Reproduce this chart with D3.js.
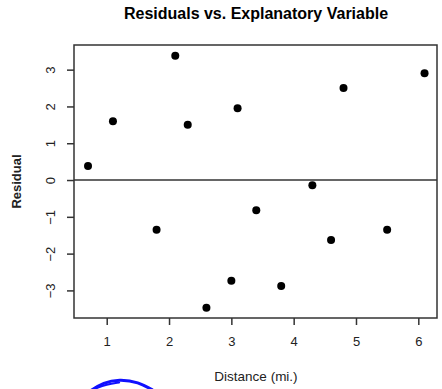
<!DOCTYPE html>
<html>
<head>
<meta charset="utf-8">
<script src="https://cdn.jsdelivr.net/npm/d3@7"></script>
<style>
  body { margin: 0; background: #fff; }
  svg { display: block; font-family: "Liberation Sans", Arial, sans-serif; }
</style>
</head>
<body>
<svg width="442" height="389"></svg>
<script>
const distance = [0.7, 1.1, 2.1, 2.3, 3.1, 4.8, 6.1, 1.8, 3.4, 4.3, 4.6, 5.5, 3.0, 2.6, 3.8];
const residual = [0.38, 1.6, 3.38, 1.5, 1.95, 2.5, 2.9, -1.35, -0.82, -0.14, -1.63, -1.35, -2.74, -3.47, -2.88];
const xTicks = [1, 2, 3, 4, 5, 6];
const yTicks = [-3, -2, -1, 0, 1, 2, 3];
// pen scribble under the chart, in data units
const scribbleA = [[0.72, -5.75], [0.95, -5.5], [1.2, -5.42], [1.5, -5.48], [1.78, -5.75]];
const scribbleB = [[0.8, -5.68], [1.0, -5.55], [1.2, -5.5]];

const config = { left: 74, right: 437, top: 45, bottom: 318 };

const svg = d3.select("svg");

const x = d3.scaleLinear().domain([0.475, 6.3]).range([config.left, config.right]);
const y = d3.scaleLinear().domain([-3.75, 3.67]).range([config.bottom, config.top]);

// title
svg.append("text")
  .attr("x", 256).attr("y", 19)
  .attr("text-anchor", "middle")
  .style("font-size", "16px").style("font-weight", "bold")
  .text("Residuals vs. Explanatory Variable");

// zero line
svg.append("line")
  .attr("x1", config.left).attr("x2", config.right)
  .attr("y1", y(0)).attr("y2", y(0))
  .attr("stroke", "#333").attr("stroke-width", 1.5);

// axes
const x_axis_g = svg.append("g")
  .attr("transform", `translate(0,${config.bottom})`)
  .call(d3.axisBottom(x).tickValues(xTicks).tickSize(7).tickPadding(10).tickSizeOuter(0).tickFormat(d3.format("d")));
const y_axis_g = svg.append("g")
  .attr("transform", `translate(${config.left},0)`)
  .call(d3.axisLeft(y).tickValues(yTicks).tickSize(7).tickSizeOuter(0).tickFormat(d => d < 0 ? "\u2212" + Math.abs(d) : d));

[x_axis_g, y_axis_g].forEach(g => {
  g.select(".domain").remove();
  g.selectAll(".tick line").attr("stroke", "#333").attr("stroke-width", 1.5);
  g.selectAll(".tick text").style("font-size", "13px").attr("fill", "#222");
});
x_axis_g.selectAll(".tick text").attr("dy", "0.85em");
y_axis_g.selectAll(".tick text")
  .attr("x", null)
  .attr("text-anchor", "middle")
  .attr("transform", "translate(-24,0) rotate(-90)")
  .attr("dy", "0.35em");

// box
svg.append("rect")
  .attr("x", config.left).attr("y", config.top)
  .attr("width", config.right - config.left).attr("height", config.bottom - config.top)
  .attr("fill", "none").attr("stroke", "#333").attr("stroke-width", 1.5);

// points
svg.append("g").selectAll("circle")
  .data(d3.range(distance.length))
  .join("circle")
  .attr("cx", i => x(distance[i]))
  .attr("cy", i => y(residual[i]))
  .attr("r", 4)
  .attr("fill", "#000");

// axis titles
svg.append("text")
  .attr("x", 256).attr("y", 381)
  .attr("text-anchor", "middle")
  .style("font-size", "13.5px").attr("fill", "#222")
  .text("Distance (mi.)");
svg.append("text")
  .attr("transform", `translate(21,${(config.top + config.bottom) / 2}) rotate(-90)`)
  .attr("text-anchor", "middle")
  .style("font-size", "13px").style("font-weight", "bold").attr("fill", "#222")
  .text("Residual");

// blue pen mark
const pen = d3.line().x(d => x(d[0])).y(d => y(d[1])).curve(d3.curveBasis);
svg.append("path").attr("d", pen(scribbleA))
  .attr("fill", "none").attr("stroke", "#1010ff").attr("stroke-width", 3).attr("stroke-linecap", "round");
svg.append("path").attr("d", pen(scribbleB))
  .attr("fill", "none").attr("stroke", "#1010ff").attr("stroke-width", 2).attr("stroke-linecap", "round");
</script>
</body>
</html>
